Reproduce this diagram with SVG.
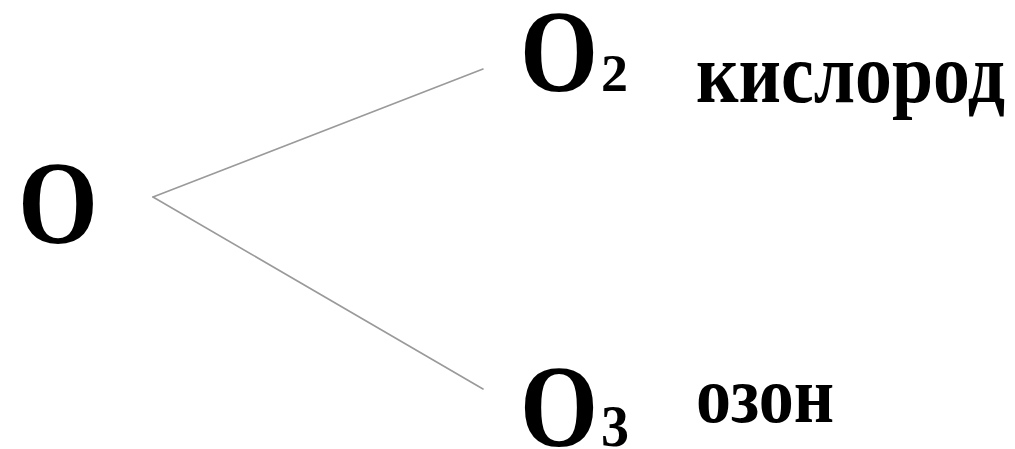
<svg xmlns="http://www.w3.org/2000/svg" width="1015" height="449" viewBox="0 0 1015 449">
<style>
.t{font-family:"Liberation Serif","Times New Roman",serif;font-weight:bold;fill:#000}
.c{stroke:#9a9a9a;stroke-width:1.6;fill:none;stroke-linecap:round}
</style>
<rect width="1015" height="449" fill="#fff"/>
<g id="connectors">
<line class="c" x1="153" y1="197" x2="483" y2="69"/>
<line class="c" x1="153" y1="197" x2="483" y2="389"/>
</g>
<g id="node-O">
<text class="t" x="18" y="243" font-size="118" textLength="80" lengthAdjust="spacingAndGlyphs">O</text>
</g>
<g id="node-O2">
<text class="t" x="520" y="91" font-size="117" textLength="78" lengthAdjust="spacingAndGlyphs">O</text>
<text class="t" x="601" y="91" font-size="53" textLength="27" lengthAdjust="spacingAndGlyphs">2</text>
<text class="t" x="696" y="102" font-size="84" textLength="309" lengthAdjust="spacingAndGlyphs">кислород</text>
</g>
<g id="node-O3">
<text class="t" x="520" y="446" font-size="117" textLength="78" lengthAdjust="spacingAndGlyphs">O</text>
<text class="t" x="601" y="446" font-size="60" textLength="28" lengthAdjust="spacingAndGlyphs">3</text>
<text class="t" x="696" y="422" font-size="81" textLength="138" lengthAdjust="spacingAndGlyphs">озон</text>
</g>
</svg>
